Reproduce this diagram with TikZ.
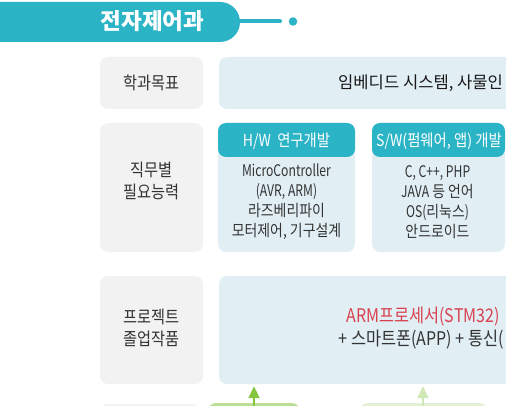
\documentclass[tikz,border=0pt]{standalone}
\usepackage{fontspec}
\setmainfont{Noto Sans CJK KR}
\newfontfamily\krA[FakeStretch=0.87]{Noto Sans CJK KR}
\newfontfamily\latA[FakeStretch=0.76]{Noto Sans CJK KR}
\newfontfamily\latB[FakeStretch=0.85]{Noto Sans CJK KR}
\newfontfamily\krw{Noto Sans CJK KR}
\newcommand\latn[1]{{\latA #1}}
\newcommand\latw[1]{{\latB #1}}
\usetikzlibrary{arrows.meta}
\definecolor{teal}{HTML}{2BB3C6}
\definecolor{lblue}{HTML}{E1EFF5}
\definecolor{lgray}{HTML}{F2F2F2}
\definecolor{txt}{HTML}{333333}
\definecolor{redt}{HTML}{D9414F}
\definecolor{dgreen}{HTML}{86C540}
\definecolor{pgreen}{HTML}{CFE8B5}
\tikzset{
  graybox/.style={fill=lgray, rounded corners=8pt, draw=none},
  bluebox/.style={fill=lblue, rounded corners=8pt, draw=none},
  lbl/.style={font=\krA\fontsize{17.5}{22}\selectfont, text=txt, align=center},
  body/.style={font=\krA\fontsize{16}{20}\selectfont, text=txt, align=center},
  big/.style={font=\krA\fontsize{18.8}{22}\selectfont, text=txt, anchor=west},
  hdrtxt/.style={font=\krA\fontsize{16.5}{18}\selectfont, text=white, align=center},
  arr/.style={-{Triangle[length=12pt,width=11pt]}, line width=2pt},
}
\begin{document}
\begin{tikzpicture}[x=1pt,y=-1pt]
\useasboundingbox (0,0) rectangle (506,406);
\clip (0,0) rectangle (506,406);
% title banner
\fill[teal, rounded corners=20pt] (-40,2) rectangle (240,42);
\node[font=\krw\bfseries\fontsize{22.5}{24}\selectfont, text=white] (title) at (152.5,21.5) {전자제어과};
\coordinate (tend) at (240,21.5);
\node[circle, fill=teal, minimum size=8.5pt, inner sep=0pt] (dot) at (293,21.5) {};
\draw[teal, line width=4pt, line cap=round] (tend) -- ([xshift=-13pt]dot.center);
% row 1
\fill[graybox] (100,57) rectangle (203,109);
\node[lbl] (r1l) at (151.5,83) {학과목표};
\fill[bluebox] (219,57) rectangle (530,109);
\node[font=\krw\fontsize{16.6}{20}\selectfont, text=black!90, anchor=west, inner sep=1pt] (goal) at (337,83) {임베디드 시스템, 사물인};
% row 2
\fill[graybox] (100,123) rectangle (203,252);
\node[lbl] (r2l) at (151.5,181) {직무별\\필요능력};
\fill[bluebox] (218,123) rectangle (355,252);
\fill[teal, rounded corners=8pt] (218,123) rectangle (355,157);
\node[hdrtxt] (hwh) at (286.5,141) {\latw{H/W}\ \ 연구개발};
\node[body] (hwb) at (286.5,202) {\latn{MicroController}\\\latn{(AVR, ARM)}\\라즈베리파이\\모터제어, 기구설계};
\fill[bluebox] (372,123) rectangle (505,252);
\fill[teal, rounded corners=8pt] (372,123) rectangle (505,157);
\node[hdrtxt] (swh) at (439,141) {\latw{S/W}(펌웨어, 앱) 개발};
\node[body] (swb) at (437.5,202) {\latn{C, C++, PHP}\\\latn{JAVA} 등 언어\\\latn{OS(}리눅스\latn{)}\\안드로이드};
% row 3
\fill[graybox] (100,276) rectangle (203,384);
\node[lbl] (r3l) at (151.5,328) {프로젝트\\졸업작품};
\fill[bluebox] (219,276) rectangle (530,384);
\node[big, text=redt] (proj1) at (343,317) {\latw{ARM}프로세서\latw{(STM32)}};
\node[big] (proj2) at (335,340) {+ 스마트폰\latw{(APP)} + 통신\latw{(}};
% bottom row tops
\fill[graybox] (100,404) rectangle (200,430);
\fill[dgreen!55, rounded corners=8pt] (208,403) rectangle (300,430);
\fill[pgreen!60, rounded corners=8pt] (360,403) rectangle (487,430);
\coordinate (a1s) at (254,410);
\coordinate (a2s) at (423,410);
\node[inner sep=0pt, minimum size=0pt] (a1t) at (254,386) {};
\node[inner sep=0pt, minimum size=0pt] (a2t) at (423,386) {};
\draw[arr, dgreen] (a1s) -- (a1t);
\draw[arr, pgreen] (a2s) -- (a2t);
\end{tikzpicture}
\end{document}
